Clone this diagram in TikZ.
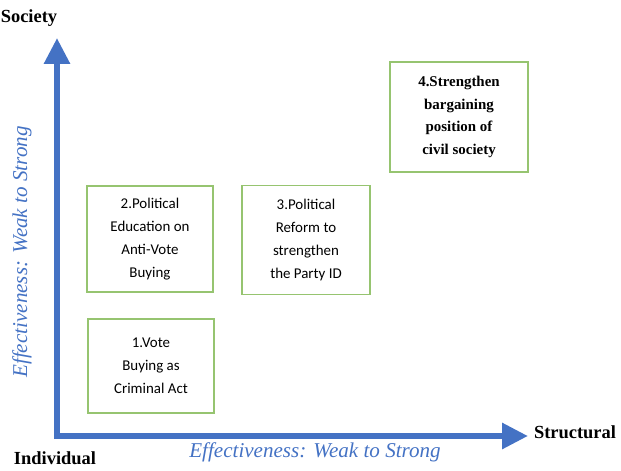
\documentclass[tikz,border=0pt]{standalone}
\usepackage{fontspec}
\setmainfont{Liberation Serif}
\newfontfamily\boxfont{Carlito}
\usepackage{tikz}
\usetikzlibrary{arrows.meta, positioning}

\definecolor{axisblue}{RGB}{68,114,196}
\definecolor{boxgreen}{RGB}{150,196,112}

\begin{document}
\begin{tikzpicture}[x=0.02cm, y=-0.02cm,
    axis/.style={axisblue, line width=0.12cm,
        -{Triangle[width=0.5cm, length=0.52cm]}},
    strategy/.style={draw=boxgreen, line width=1pt, fill=white,
        align=center, font=\boxfont\fontsize{8.5}{13}\selectfont},
    pole/.style={font=\bfseries\fontsize{10.5}{12}\selectfont},
    scale label/.style={text=axisblue, font=\itshape\fontsize{12}{14}\selectfont}
]
\useasboundingbox (0,0) rectangle (621,470);

% axes
\coordinate (origin) at (57,436);
\coordinate (ytop) at (57,38);
\coordinate (xend) at (528,436);
\draw[axis] ([yshift=-0.06cm]origin) -- (ytop);
\draw[axis] ([xshift=-0.06cm]origin) -- (xend);

\node[pole] (society) at (29,18) {Society};
\node[pole] (individual) at (55,458) {Individual};
\node[pole] (structural) at (575,432) {Structural};

\node[scale label] (xscale) at (315,452) {Effectiveness: Weak to Strong};
\node[scale label, rotate=90] (yscale) at (22,252) {Effectiveness: Weak to Strong};

% strategies
\node[strategy, minimum width=2.52cm, minimum height=1.88cm]
    (s1) at (151,366) {1.Vote\\Buying as\\Criminal Act};
\node[strategy, minimum width=2.52cm, minimum height=2.12cm]
    (s2) at (150,239) {2.Political\\Education on\\Anti-Vote\\Buying};
\node[strategy, minimum width=2.56cm, minimum height=2.18cm]
    (s3) at (306,240) {3.Political\\Reform to\\strengthen\\the Party ID};
\node[strategy, minimum width=2.76cm, minimum height=2.2cm,
    font=\bfseries\fontsize{8.5}{13}\selectfont]
    (s4) at (459,117) {4.Strengthen\\bargaining\\position of\\civil society};
\end{tikzpicture}
\end{document}
